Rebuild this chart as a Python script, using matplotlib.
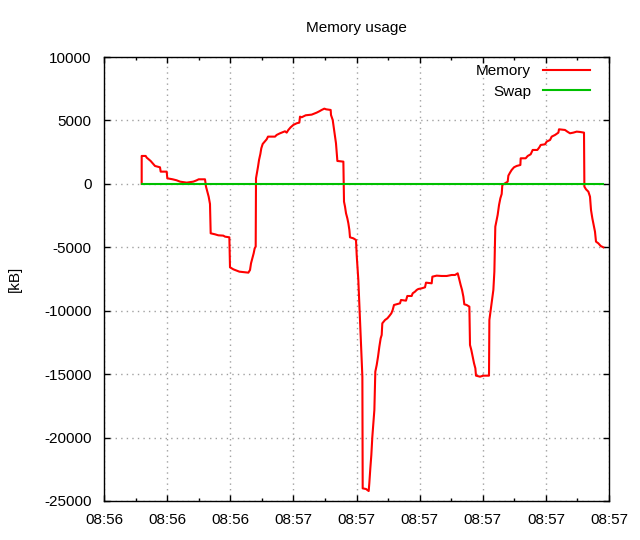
import matplotlib
matplotlib.use('Agg')
import matplotlib.pyplot as plt
from matplotlib.ticker import MultipleLocator

# seconds after 08:56:30 and memory change in kB
mem_t = [5.97, 5.97, 6.60, 6.76, 7.08, 7.39, 7.71, 8.08, 8.87, 8.98, 9.93, 10.03, 10.88,
         11.51, 12.04, 13.10, 14.15, 14.68, 15.00, 16.00, 16.16, 16.37, 16.58, 16.79, 16.90,
         17.58, 18.11, 18.90, 19.17, 19.86, 19.96, 20.49, 21.02, 21.44, 22.87, 23.13, 23.29,
         23.50, 23.71, 23.87, 24.03, 24.08, 24.24, 24.40, 24.56, 24.77, 24.92, 25.14, 25.45,
         25.77, 25.98, 27.09, 27.35, 27.88, 28.30, 28.67, 28.94, 29.20, 29.57, 29.99, 30.52,
         30.94, 31.05, 31.31, 31.95, 32.90, 33.16, 33.69, 34.11, 34.48, 34.91, 35.17, 35.91,
         35.96, 36.23, 36.44, 36.60, 36.75, 36.86, 36.97, 37.92, 38.02, 38.18, 38.34, 38.55,
         38.71, 38.87, 38.97, 39.50, 39.92, 40.03, 40.29, 40.45, 40.61, 40.77, 40.93, 40.98,
         41.51, 41.93, 42.03, 42.19, 42.35, 42.51, 42.67, 42.83, 42.98, 43.20, 43.41, 43.62,
         43.83, 43.99, 44.09, 44.52, 44.89, 45.20, 45.52, 45.73, 45.94, 46.89, 47.05, 47.84,
         48.05, 48.74, 48.90, 49.27, 49.53, 49.80, 50.33, 50.85, 51.01, 51.91, 52.02, 52.70,
         53.49, 54.29, 55.08, 55.61, 56.03, 56.24, 56.50, 56.72, 56.93, 57.08, 57.45, 57.88,
         57.98, 58.19, 58.40, 58.62, 58.83, 58.93, 59.57, 60.09, 60.99, 61.05, 61.26, 61.47,
         61.68, 61.84, 61.99, 62.21, 62.36, 62.58, 62.79, 63.00, 63.10, 63.95, 64.06, 64.32,
         64.58, 64.95, 65.37, 65.96, 66.01, 66.80, 67.12, 67.59, 67.91, 68.65, 68.97, 69.18,
         69.86, 70.13, 70.66, 70.92, 71.45, 71.98, 72.08, 73.03, 73.40, 73.82, 74.35, 74.88,
         75.41, 76.04, 76.10, 76.36, 76.73, 76.99, 77.15, 77.36, 77.57, 77.78, 77.94, 78.31,
         78.68, 79.10]
mem_kb = [0, 2200, 2200, 2070, 1936, 1804, 1620, 1410, 1305, 963, 963, 438, 359,
          280, 175, 96, 175, 280, 359, 359, -219, -613, -1008, -1586, -3898,
          -3977, -4056, -4082, -4161, -4214, -6579, -6737, -6842, -6921, -6999, -6789, -6264,
          -5869, -5475, -5081, -4950, 438, 885, 1358, 1883, 2356, 2803, 3145, 3329,
          3513, 3723, 3723, 3854, 3986, 4065, 4143, 4038, 4248, 4459, 4643, 4774,
          4827, 5300, 5247, 5405, 5457, 5510, 5615, 5720, 5825, 5930, 5878, 5825,
          5431, 5037, 4301, 3723, 3197, 2540, 1804, 1752, -1402, -1796, -2322, -2716,
          -3110, -3636, -4214, -4293, -4424, -5607, -7578, -9417, -11388, -13359, -15199, -24003,
          -24055, -24213, -23608, -22426, -21375, -19929, -18878, -17827, -14805, -14279, -13622, -12834,
          -12177, -11914, -10994, -10731, -10600, -10416, -10206, -9943, -9549, -9417, -9154, -9207,
          -8839, -8839, -8629, -8497, -8366, -8287, -8235, -8156, -7788, -7840, -7315, -7236,
          -7262, -7262, -7184, -7184, -7052, -7446, -7972, -8366, -8892, -9496, -9549, -9680,
          -12702, -13097, -13622, -14148, -14542, -15120, -15199, -15120, -15120, -10731, -9943, -9154,
          -8366, -6921, -3373, -2847, -2453, -1665, -1139, -797, -88, 175, 648, 885,
          1095, 1305, 1410, 1489, 2015, 2015, 2198, 2330, 2672, 2672, 2882, 3066,
          3118, 3329, 3460, 3723, 3854, 4038, 4301, 4248, 4117, 3986, 4038, 4117,
          4091, 4038, -219, -430, -613, -1008, -2059, -2716, -3241, -3767, -4555, -4687,
          -4897, -5002]

swap_t = [5.97, 79.10]
swap_kb = [0, 0]

tick_pos = [0, 10, 20, 30, 40, 50, 60, 70, 80]
tick_labels = ['08:56', '08:56', '08:56', '08:57', '08:57', '08:57', '08:57', '08:57', '08:57']

plt.rcParams['font.family'] = ['Liberation Sans', 'DejaVu Sans']
plt.rcParams['font.size'] = 11
plt.rcParams['axes.unicode_minus'] = False

fig = plt.figure(figsize=(6.4, 5.4), dpi=100)
ax = fig.add_axes([104 / 640, 1 - 501 / 540, 505 / 640, 444 / 540])

ax.plot(mem_t, mem_kb, color='#ff0000', lw=1.5, label='Memory')
ax.plot(swap_t, swap_kb, color='#00c000', lw=1.5, label='Swap')

ax.set_xlim(0, 80)
ax.set_ylim(-25000, 10000)
ax.set_xticks(tick_pos)
ax.set_xticklabels(tick_labels)
ax.xaxis.set_minor_locator(MultipleLocator(5))
ax.yaxis.set_major_locator(MultipleLocator(5000))
ax.tick_params(which='both', direction='in', top=True, right=True, colors='black')
ax.tick_params(which='major', length=4.5, width=1)
ax.tick_params(axis='y', which='major', pad=9)
ax.tick_params(axis='x', which='major', pad=9)
ax.tick_params(which='minor', length=2, width=1)
ax.grid(True, which='major', color='#a0a0a0', linestyle=(0, (1, 3)), lw=1)
for s in ax.spines.values():
    s.set_linewidth(1)

ax.set_ylabel('[kB]', labelpad=16)
fig.text(356 / 640, 1 - 28 / 540, 'Memory usage', ha='center', va='center', fontsize=11)

ax.legend(loc='upper right', bbox_to_anchor=(0.9624, 0.984), frameon=False,
          markerfirst=False, handlelength=3.1, borderpad=0, borderaxespad=0,
          labelspacing=0.42, handletextpad=0.75)

fig.savefig('out.png', dpi=100)
